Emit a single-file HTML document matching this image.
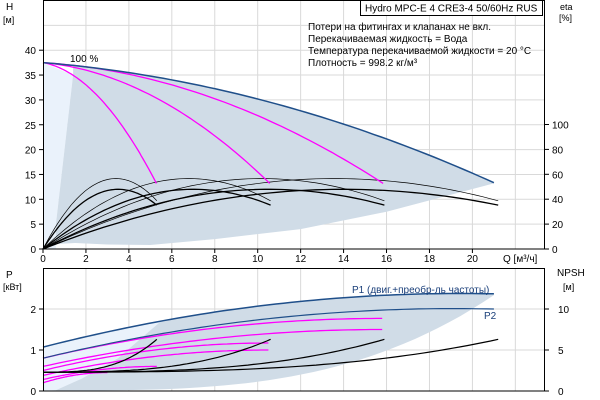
<!DOCTYPE html><html><head><meta charset="utf-8"><style>
body{margin:0;background:#fff}
svg{display:block;font-family:"Liberation Sans",sans-serif;font-size:10px}
</style></head><body>
<svg id="s" width="600" height="400" xmlns="http://www.w3.org/2000/svg">
<g id="g"></g>
<g fill="#000">
<text x="6" y="10">H</text><text x="3" y="23" font-size="9">[м]</text>
<text x="560" y="10" font-size="9">eta</text><text x="559" y="21" font-size="9">[%]</text>
<text x="6" y="278">P</text><text x="3" y="290" font-size="9">[кВт]</text>
<text x="557" y="276">NPSH</text><text x="563" y="290" font-size="9">[м]</text>
<text x="70" y="62">100 %</text>
<text x="503" y="262">Q [м³/ч]</text>
<text x="308" y="30">Потери на фитингах и клапанах не вкл.</text>
<text x="308" y="42">Перекачиваемая жидкость = Вода</text>
<text x="308" y="54">Температура перекачиваемой жидкости = 20 °C</text>
<text x="308" y="66">Плотность = 998.2 кг/м³</text>
<text x="352" y="293" fill="#1a3f7a">P1 (двиг.+преобр-ль частоты)</text>
<text x="484" y="319" fill="#1a3f7a">P2</text>
</g>
<rect x="360.5" y="0.5" width="182" height="15" fill="#fff" stroke="#000"/>
<text x="365" y="11.5">Hydro MPC-E 4 CRE3-4 50/60Hz RUS</text>
</svg>
<script>
const X=q=>43+21.47*q, Y=h=>249-4.97*h, Y2=p=>391-41*p;
let o='';
const pl=(pts,st)=>{o+=`<polyline fill="none" points="${pts.map(p=>p[0].toFixed(1)+','+p[1].toFixed(1)).join(' ')}" ${st}/>`};
const fn=(ff,a,b,yf,st)=>{let p=[];for(let i=0;i<=60;i++){let q=a+(b-a)*i/60;p.push([X(q),yf(ff(q))]);}pl(p,st)};
const poly=(pts,fill)=>{o+=`<polygon points="${pts.map(p=>p[0].toFixed(1)+','+p[1].toFixed(1)).join(' ')}" fill="${fill}"/>`};
const f=x=>37.5-1.4*x-0.61*x*x;
const g=x=>37.5-0.8*x-0.72*x*x;
o+='<rect x="43" y="0" width="502" height="249" fill="#fff"/>';
for(let q=2;q<=22;q+=2)o+=`<line x1="${X(q)}" y1="0" x2="${X(q)}" y2="249" stroke="#d9d9d9"/><line x1="${X(q)}" y1="268" x2="${X(q)}" y2="391" stroke="#d9d9d9"/>`;
for(let h=5;h<=45;h+=5)o+=`<line x1="43" y1="${Y(h)}" x2="545" y2="${Y(h)}" stroke="#d9d9d9"/>`;
for(let p=1;p<=2;p++)o+=`<line x1="43" y1="${Y2(p)}" x2="545" y2="${Y2(p)}" stroke="#d9d9d9"/>`;
let tp=[];for(let i=0;i<=60;i++){let q=21*i/60;tp.push([X(q),Y(f(q/4))]);}
let light=[[X(0),Y(37.5)],[X(1.4),Y(35)],[X(0.6),Y(5)],[X(0.6),Y(0)],[X(0),Y(0)]];
poly(light,'#eaf2fb');
let sh=tp.filter(p=>p[0]>=X(1.4)).concat([[X(21),Y(13.2)],[X(16),Y(7.5)],[X(12),Y(4)],[X(8),Y(2)],[X(5),Y(0.8)],[X(3),Y(0.9)],[X(1.5),Y(1.2)],[X(0.6),Y(1)],[X(0.6),Y(5)]]);
poly([[X(1.4),Y(35)]].concat(sh),'#d0dce7');
let P1=q=>1.07+0.1344*q-0.00345*q*q, P2=q=>0.8+0.1264*q-0.0033*q*q;
let bt=[];for(let i=0;i<=40;i++){let q=21*i/40;bt.push([X(q),Y2(P1(q))]);}
let low=[];for(let i=40;i>=0;i--){let q=21*i/40;low.push([X(q),Y2(0.01+2.33*Math.pow(q/21,3.2))]);}
poly(bt.concat(low),'#d0dce7');
poly([[X(0),Y2(1.07)],[X(5.5),Y2(P1(5.5))],[X(3.5),Y2(0.8)],[X(1.8),Y2(0.3)],[X(0.6),Y2(0.02)],[X(0),Y2(0)]],'#eaf2fb');
for(let n=1;n<=4;n++){
 fn(q=>{let x=q/n;return 8.35*x-1.23*x*x},0,5.3*n,Y,'stroke="#000" stroke-width="0.7"');
 fn(q=>{let x=q/n;return 6.86*x-0.98*x*x},0,5.3*n,Y,'stroke="#000" stroke-width="1.3"');
}
for(let n=1;n<=3;n++)fn(q=>g(q/n),0,5.28*n,Y,'stroke="#ff00ff" stroke-width="1.3"');
fn(q=>f(q/4),0,21,Y,'stroke="#1f4f8a" stroke-width="1.5"');
const pk=[[0.8,1.77,15.8],[0.6,1.5,15.8],[0.5,1.17,10.5],[0.38,1.0,10.5],[0.28,0.6,5.3],[0.2,0.45,3]];
pk.forEach(([a,b,e])=>fn(q=>a+(b-a)*(1-Math.pow(1-q/e,2)),0,e,Y2,'stroke="#ff00ff" stroke-width="1.3"'));
for(let n=1;n<=4;n++)fn(q=>{let x=q/n;return (2.3+4*Math.pow(x/5.3,3))*0.2},0,5.3*n,Y2,'stroke="#000" stroke-width="1.2"');
fn(P1,0,21,Y2,'stroke="#1f4f8a" stroke-width="1.5"');
fn(P2,0,21,Y2,'stroke="#1f4f8a" stroke-width="1.2"');
o+='<rect x="43.5" y="0.5" width="501" height="248.5" fill="none" stroke="#000"/>';
o+='<rect x="43.5" y="268.5" width="501" height="122.5" fill="none" stroke="#000"/>';
let t='';
for(let q=0;q<=20;q+=2)t+=`<text x="${X(q)}" y="262" text-anchor="middle">${q}</text><line x1="${X(q)}" y1="249" x2="${X(q)}" y2="253" stroke="#000"/>`;
for(let h=0;h<=40;h+=5)t+=`<text x="36" y="${Y(h)+4}" text-anchor="end">${h}</text><line x1="39" y1="${Y(h)}" x2="43" y2="${Y(h)}" stroke="#000"/>`;
for(let e=0;e<=100;e+=20){let y=249-1.245*e;t+=`<text x="552" y="${y+4}">${e}</text><line x1="545" y1="${y}" x2="549" y2="${y}" stroke="#000"/>`;}
for(let p=0;p<=2;p++)t+=`<text x="36" y="${Y2(p)+4}" text-anchor="end">${p}</text><line x1="39" y1="${Y2(p)}" x2="43" y2="${Y2(p)}" stroke="#000"/>`;
[[0,0],[5,1],[10,2]].forEach(([v,p])=>{t+=`<text x="558" y="${Y2(p)+4}">${v}</text><line x1="545" y1="${Y2(p)}" x2="549" y2="${Y2(p)}" stroke="#000"/>`;});
o+=t;
document.getElementById('g').innerHTML=o;
</script>
</body></html>
